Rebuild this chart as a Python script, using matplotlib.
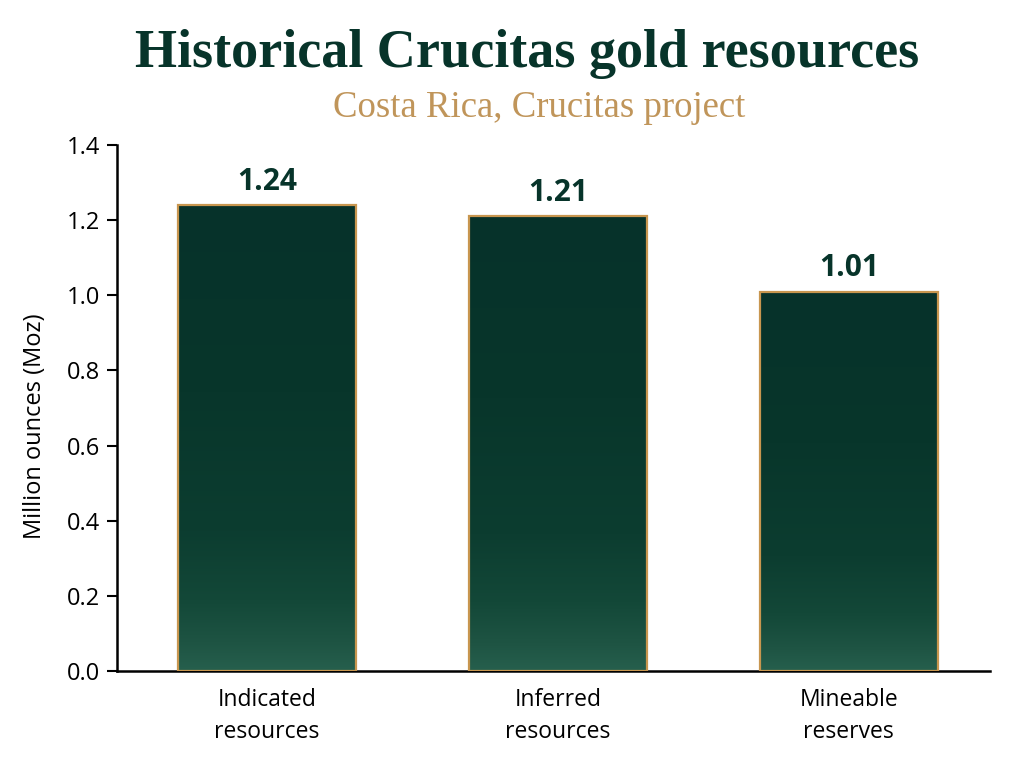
import numpy as np
import matplotlib
matplotlib.use("Agg")
import matplotlib.pyplot as plt
from matplotlib.colors import LinearSegmentedColormap

categories = ["Indicated\nresources", "Inferred\nresources", "Mineable\nreserves"]
values = [1.24, 1.21, 1.01]
yticks = [0.0, 0.2, 0.4, 0.6, 0.8, 1.0, 1.2, 1.4]

title = "Historical Crucitas gold resources"
subtitle = "Costa Rica, Crucitas project"
ylabel = "Million ounces (Moz)"

dark = "#07342A"
gold = "#C8964F"

fig = plt.figure(figsize=(10.24, 7.68), dpi=100)
ax = fig.add_axes([117/1024, 1-671/768, (990-117)/1024, (671-145)/768])

cmap = LinearSegmentedColormap.from_list(
    "gg", [(0.0, "#265F4D"), (0.06, "#1E5443"), (0.15, "#134838"),
           (0.3, "#0C3D30"), (0.6, "#08362B"), (1.0, "#06322A")])
x = np.arange(len(categories))
bars = ax.bar(x, values, width=0.61, color="none", edgecolor=gold, linewidth=1.6, zorder=3)
grad = np.linspace(0, 1, 256).reshape(-1, 1)
for b in bars:
    x0 = b.get_x()
    w, h = b.get_width(), b.get_height()
    im = ax.imshow(grad, extent=[x0, x0 + w, 0, h], origin="lower", aspect="auto",
                   cmap=cmap, zorder=2)
    im.set_clip_path(b)
    ax.text(x0 + w/2, h + 0.022, f"{h:.2f}", ha="center", va="bottom",
            fontsize=21.5, fontweight="bold", color=dark, family="Open Sans")

ax.set_xlim(-0.515, 2.485)
ax.set_ylim(0, 1.4)
ax.set_yticks(yticks)
ax.set_yticklabels([f"{t:.1f}" for t in yticks], family="Open Sans", fontsize=17)
ax.set_xticks(x)
ax.set_xticklabels(categories, family="Open Sans", fontsize=16.5, linespacing=1.45)
ax.tick_params(axis="x", length=0, pad=12)
ax.tick_params(axis="y", length=7, width=1.5, pad=5)
for s in ["top", "right"]:
    ax.spines[s].set_visible(False)
for s in ["left", "bottom"]:
    ax.spines[s].set_linewidth(1.8)
ax.set_ylabel(ylabel, family="Open Sans", fontsize=17)
ax.yaxis.set_label_coords(-0.08, 0.465)

fig.text(0.515, 0.93, title, ha="center", va="center", family="Liberation Serif",
         fontweight="bold", fontsize=39, color=dark)
fig.text(0.527, 0.86, subtitle, ha="center", va="center", family="Liberation Serif",
         fontsize=26.5, color="#C0955A")

fig.savefig("out.png", dpi=100, facecolor="white")
